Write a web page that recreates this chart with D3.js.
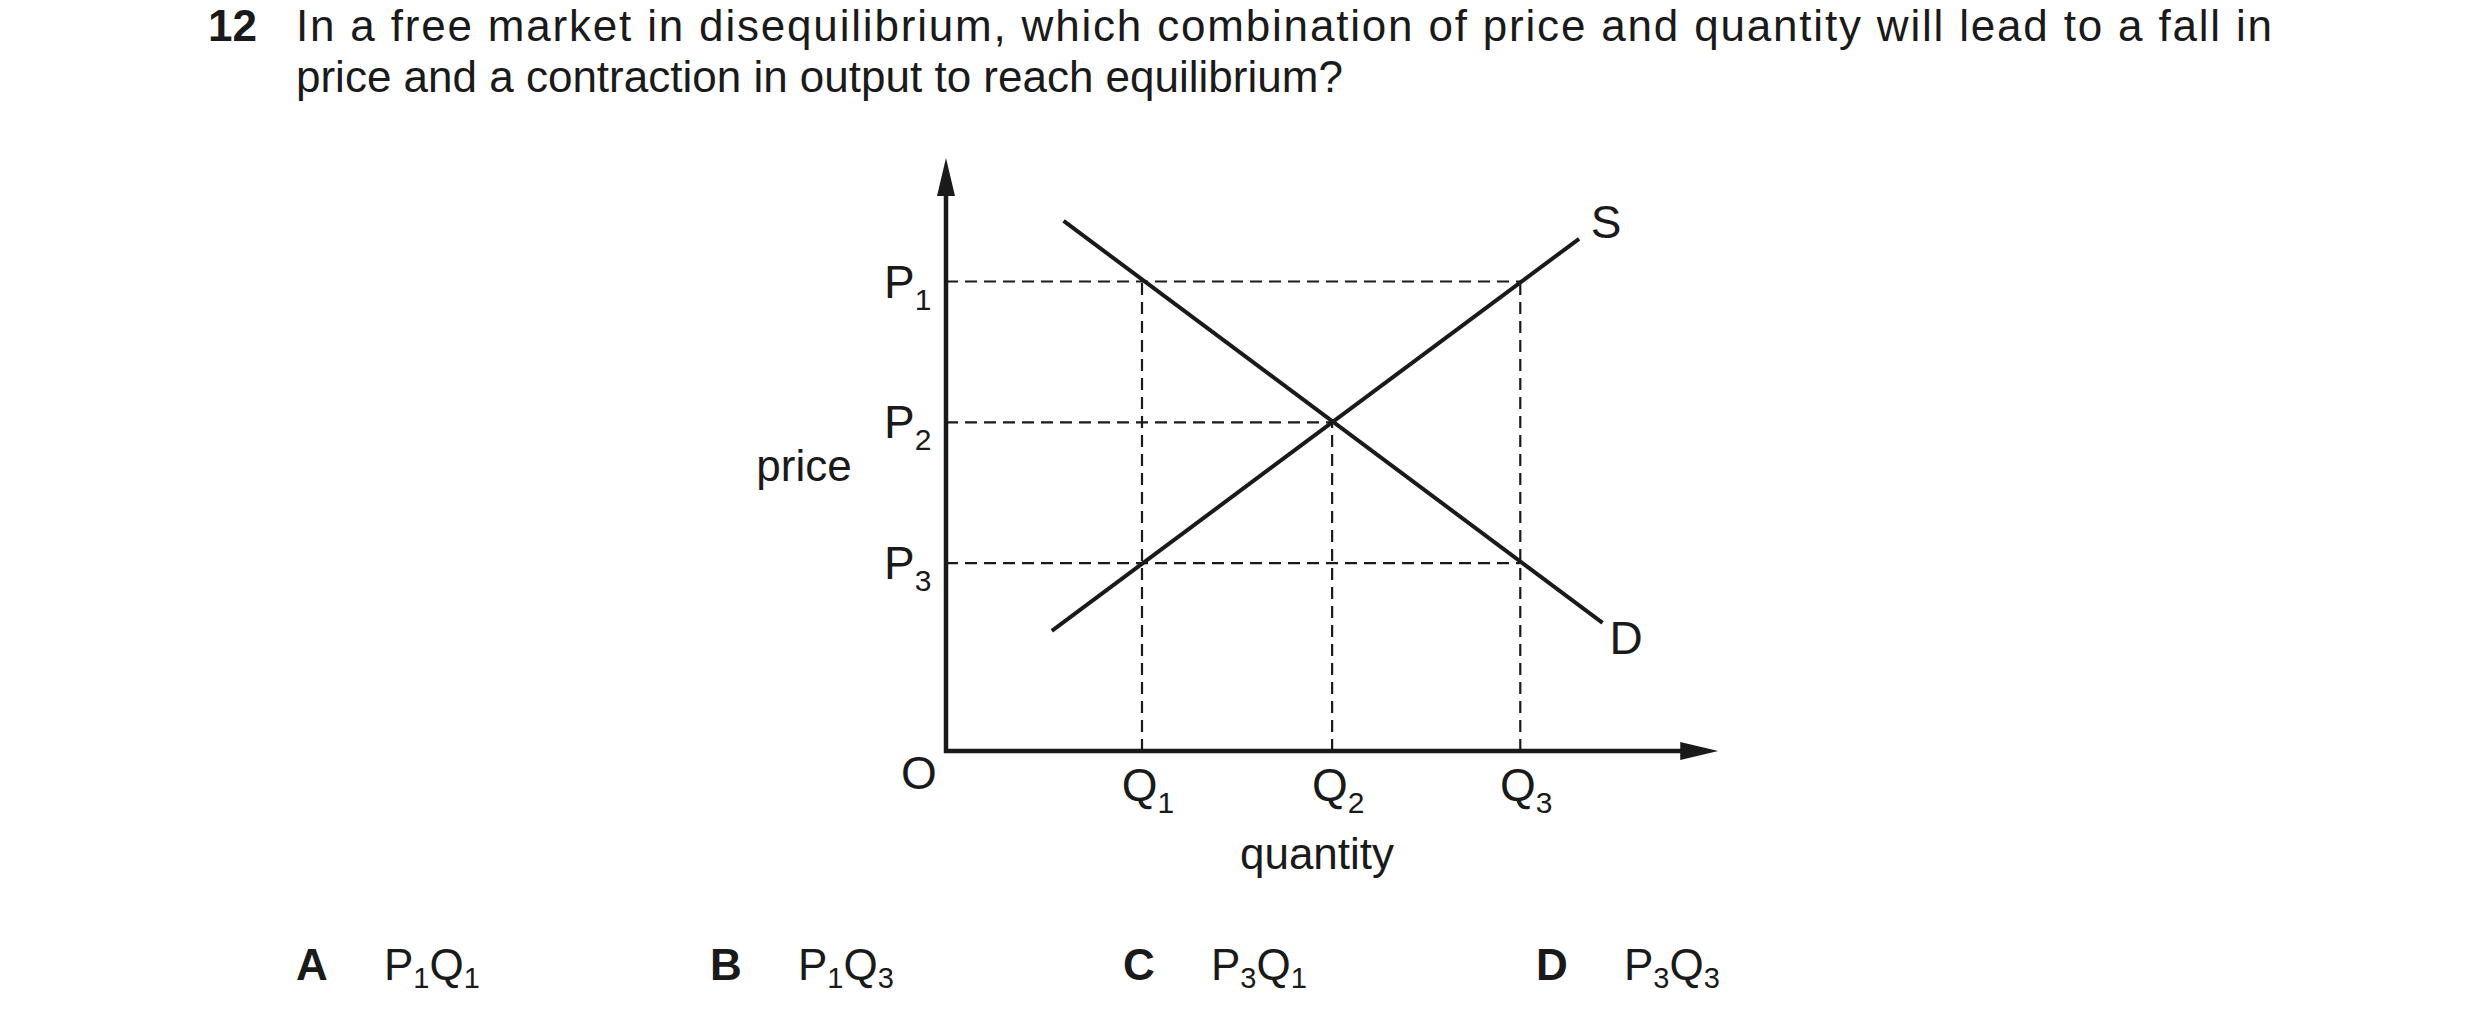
<!DOCTYPE html>
<html><head><meta charset="utf-8">
<script src="https://cdn.jsdelivr.net/npm/d3@7"></script>
<style>body{margin:0;background:#fff}svg{font-family:"Liberation Sans",Arial,sans-serif}</style>
</head><body>
<svg id="c" width="2480" height="1028"></svg>
<script>
const priceLevels = [{name:"P",sub:"1",v:100},{name:"P",sub:"2",v:70},{name:"P",sub:"3",v:40}];
const qtyLevels = [{name:"Q",sub:"1",v:1},{name:"Q",sub:"2",v:1.97},{name:"Q",sub:"3",v:2.93}];
const demand = [[0.60,112.9],[3.35,27.3]];
const supply = [[0.54,25.6],[3.23,109.1]];
const options = [["A","1","1"],["B","1","3"],["C","3","1"],["D","3","3"]];
const question = ["In a free market in disequilibrium, which combination of price and quantity will lead to a fall in",
                  "price and a contraction in output to reach equilibrium?"];

const svg = d3.select("#c");
const x = d3.scaleLinear().domain([0,1]).range([946,1142]);
const y = d3.scaleLinear().domain([0,100]).range([751,281.5]);
const ink = "#1a1a1a";

svg.append("text").attr("x",208).attr("y",41).attr("font-size",44).attr("font-weight","bold").attr("fill",ink).text("12");
svg.append("text").attr("x",296).attr("y",41).attr("font-size",44).attr("fill",ink)
  .attr("textLength",1976).attr("lengthAdjust","spacing").text(question[0]);
svg.append("text").attr("x",296).attr("y",92).attr("font-size",44).attr("fill",ink).text(question[1]);

priceLevels.forEach(p=>{
  const q = p.v===70? qtyLevels[1].v : qtyLevels[2].v;
  svg.append("line").attr("x1",x(0)).attr("x2",x(q)).attr("y1",y(p.v)).attr("y2",y(p.v))
    .attr("stroke",ink).attr("stroke-width",2.2).attr("stroke-dasharray","12,7");
});
qtyLevels.forEach(q=>{
  const top = q.v===qtyLevels[1].v ? 70 : 100;
  svg.append("line").attr("x1",x(q.v)).attr("x2",x(q.v)).attr("y1",y(0)).attr("y2",y(top))
    .attr("stroke",ink).attr("stroke-width",2.2).attr("stroke-dasharray","12,7");
});

const line = d3.line().x(d=>x(d[0])).y(d=>y(d[1]));
[demand,supply].forEach(d=>svg.append("path").attr("d",line(d)).attr("fill","none").attr("stroke",ink).attr("stroke-width",4));

svg.append("line").attr("x1",x(0)).attr("x2",x(0)).attr("y1",y(0)+2).attr("y2",y(120)).attr("stroke",ink).attr("stroke-width",4.5);
svg.append("line").attr("x1",x(0)-2).attr("x2",x(3.75)).attr("y1",y(0)).attr("y2",y(0)).attr("stroke",ink).attr("stroke-width",4.5);
const tipY=y(126.3), tipX=x(3.94);
svg.append("path").attr("d",`M${x(0)},${tipY} L${x(0)-9},${tipY+38} L${x(0)+9},${tipY+38}Z`).attr("fill",ink);
svg.append("path").attr("d",`M${tipX},${y(0)} L${tipX-38},${y(0)-9} L${tipX-38},${y(0)+9}Z`).attr("fill",ink);

function sublabel(g, name, sub, xx, yy, anchor){
  const t = g.append("text").attr("x",xx).attr("y",yy).attr("font-size",46).attr("fill",ink).attr("text-anchor",anchor||"start");
  t.append("tspan").text(name);
  t.append("tspan").attr("font-size",30).attr("dy",12).text(sub);
  return t;
}
priceLevels.forEach(p=>sublabel(svg,p.name,p.sub,884,y(p.v)+16));
qtyLevels.forEach(q=>sublabel(svg,q.name,q.sub,x(q.v)+6,y(0)+50,"middle"));
svg.append("text").attr("x",919).attr("y",789).attr("font-size",46).attr("fill",ink).attr("text-anchor","middle").text("O");
svg.append("text").attr("x",1606).attr("y",238).attr("font-size",46).attr("fill",ink).attr("text-anchor","middle").text("S");
svg.append("text").attr("x",1626).attr("y",654).attr("font-size",46).attr("fill",ink).attr("text-anchor","middle").text("D");
svg.append("text").attr("x",804).attr("y",481).attr("font-size",44).attr("fill",ink).attr("text-anchor","middle").text("price");
svg.append("text").attr("x",1317).attr("y",869).attr("font-size",44).attr("fill",ink).attr("text-anchor","middle").text("quantity");

const optX = [296,710,1123,1536];
options.forEach((o,i)=>{
  svg.append("text").attr("x",optX[i]).attr("y",980).attr("font-size",44).attr("font-weight","bold").attr("fill",ink).text(o[0]);
  const t = svg.append("text").attr("x",optX[i]+88).attr("y",980).attr("font-size",44).attr("fill",ink);
  t.append("tspan").text("P");
  t.append("tspan").attr("font-size",29).attr("dy",8).text(o[1]);
  t.append("tspan").attr("dy",-8).text("Q");
  t.append("tspan").attr("font-size",29).attr("dy",8).text(o[2]);
});
</script>
</body></html>
